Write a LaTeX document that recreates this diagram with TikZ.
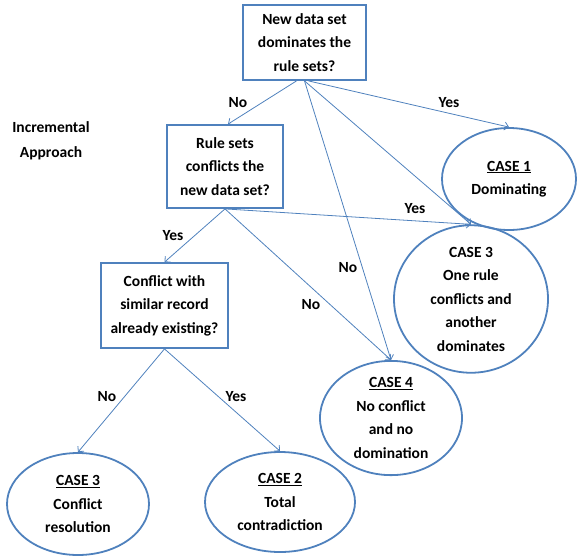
\documentclass[tikz,border=0pt]{standalone}
\usepackage{fontspec}
\setmainfont{Carlito}
\usetikzlibrary{shapes.geometric,arrows.meta}
\definecolor{ob}{HTML}{4F81BD}
\begin{document}
\begin{tikzpicture}[x=1pt,y=-1pt,
  txt/.style={font=\bfseries\fontsize{15.5}{23.5}\selectfont,align=center,inner sep=0pt},
  qbox/.style={txt,draw=ob,line width=1.8pt,rectangle},
  cbox/.style={txt,draw=ob,line width=1.8pt,ellipse},
  conn/.style={draw=ob,line width=0.8pt,-{Straight Barb[length=4pt,width=8pt]}},
  lab/.style={txt}]
\useasboundingbox (0,0) rectangle (577,557);
% decision boxes
\node[qbox,minimum width=123pt,minimum height=75pt] (top) at (304.5,42.5) {New data set\\dominates the\\rule sets?};
\node[qbox,minimum width=116pt,minimum height=83pt] (rs) at (225,166.5) {Rule sets\\conflicts the\\new data set?};
\node[qbox,minimum width=127pt,minimum height=85pt] (conf) at (164.5,305.5) {Conflict with\\similar record\\already existing?};
% case ellipses
\node[cbox,minimum width=134pt,minimum height=102pt] (c1) at (509,179) {\underline{CASE 1}\\Dominating};
\node[cbox,minimum width=154pt,minimum height=112pt] (c3m) at (471,299) {CASE 3\\One rule\\conflicts and\\another\\dominates};
\node[cbox,minimum width=142pt,minimum height=106pt] (c4) at (391,418) {\underline{CASE 4}\\No conflict\\and no\\domination};
\node[cbox,minimum width=142pt,minimum height=102pt] (c3b) at (78,504) {\underline{CASE 3}\\Conflict\\resolution};
\node[cbox,minimum width=150pt,minimum height=100pt] (c2) at (280,502) {\underline{CASE 2}\\Total\\contradiction};
% connectors
\draw[conn] ([xshift=-8pt]top.south) -- ([xshift=3pt]rs.north);
\draw[conn] ([xshift=4pt]top.south) -- (c1.north);
\draw[conn] (top.south) -- (c3m.north);
\draw[conn] (top.south) -- (c4.north);
\draw[conn] (rs.south) -- (conf.north);
\draw[conn] (rs.south) -- (c3m.north);
\draw[conn] (rs.south) -- (c4.north);
\draw[conn] (conf.south) -- (c3b.north);
\draw[conn] (conf.south) -- (c2.north);
% labels
\node[lab] (l1) at (238,103) {No};
\node[lab] (l2) at (449,103) {Yes};
\node[lab] (l3) at (415,209) {Yes};
\node[lab] (l4) at (348,268) {No};
\node[lab] (l5) at (311,305) {No};
\node[lab] (l6) at (173,236) {Yes};
\node[lab] (l7) at (107,397) {No};
\node[lab] (l8) at (236,397) {Yes};
\node[txt,font=\bfseries\fontsize{15.5}{25}\selectfont] (inc) at (51,140.5) {Incremental\\Approach};
\end{tikzpicture}
\end{document}
